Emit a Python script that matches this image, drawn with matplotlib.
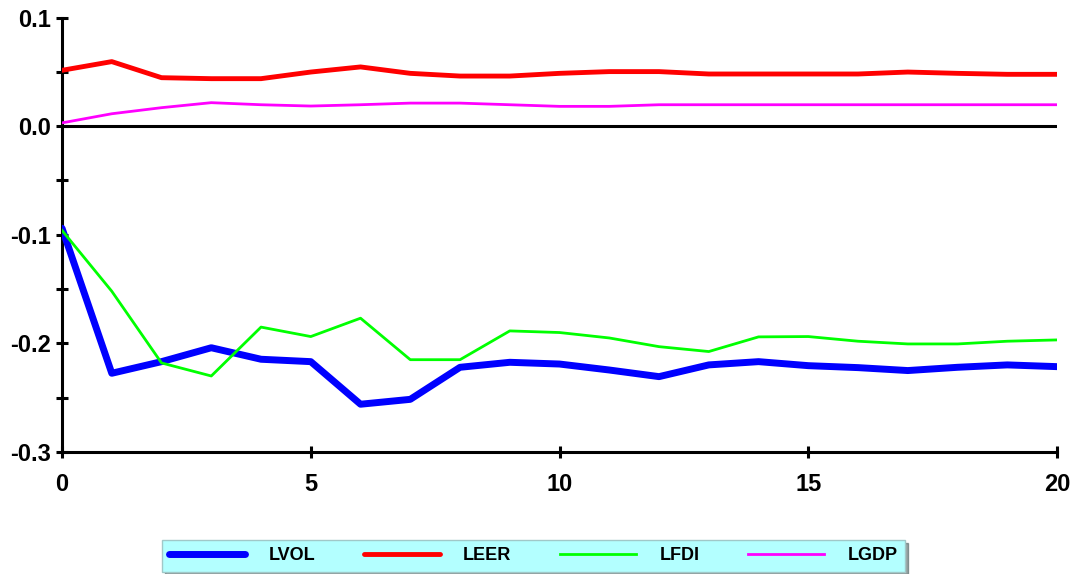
import matplotlib
matplotlib.use("Agg")
import matplotlib.pyplot as plt
import numpy as np

plt.rcParams["font.family"] = ["Liberation Sans", "DejaVu Sans"]
plt.rcParams["font.weight"] = "bold"

periods = list(range(21))
lvol = [-0.094, -0.2275, -0.2168, -0.204, -0.2146, -0.2168, -0.256, -0.2515, -0.222, -0.2174,
        -0.219, -0.2245, -0.2306, -0.2198, -0.2168, -0.2205, -0.2223, -0.225, -0.222, -0.2198, -0.2214]
leer = [0.0514, 0.0594, 0.0446, 0.0437, 0.0437, 0.0498, 0.0545, 0.0486, 0.0461, 0.0461,
        0.0486, 0.0502, 0.0502, 0.048, 0.048, 0.048, 0.048, 0.0498, 0.0486, 0.0477, 0.0477]
lfdi = [-0.096, -0.152, -0.218, -0.230, -0.185, -0.1937, -0.1768, -0.215, -0.215, -0.1885,
        -0.190, -0.195, -0.203, -0.2075, -0.194, -0.1937, -0.198, -0.2005, -0.2005, -0.198, -0.1968]
lgdp = [0.003, 0.0114, 0.017, 0.0216, 0.0197, 0.0185, 0.0197, 0.0212, 0.0212, 0.0197,
        0.0182, 0.0182, 0.0197, 0.0197, 0.0197, 0.0197, 0.0197, 0.0197, 0.0197, 0.0197, 0.0197]

fig = plt.figure(figsize=(10.75, 5.74), dpi=100)
ax = fig.add_axes([0.0577, 0.2125, 0.9256, 0.757])

ax.axhline(0, color="black", lw=2.2, zorder=1)
ax.plot(periods, lvol, color="#0000ff", lw=5, label="LVOL", solid_capstyle="round", zorder=3)
ax.plot(periods, leer, color="#ff0000", lw=3.5, label="LEER", solid_capstyle="round", zorder=3)
ax.plot(periods, lfdi, color="#00ff00", lw=2, label="LFDI", zorder=3)
ax.plot(periods, lgdp, color="#ff00ff", lw=2, label="LGDP", zorder=3)

ax.set_xlim(0, 20)
ax.set_ylim(-0.3, 0.1)
ax.set_xticks([0, 5, 10, 15, 20])
ax.set_yticks([-0.3, -0.2, -0.1, 0.0, 0.1])
ax.set_yticklabels(["-0.3", "-0.2", "-0.1", "0.0", "0.1"])
ax.set_yticks([-0.25, -0.15, -0.05, 0.05], minor=True)

for s in ["top", "right"]:
    ax.spines[s].set_visible(False)
for s in ["left", "bottom"]:
    ax.spines[s].set_linewidth(2.2)
ax.tick_params(which="both", direction="inout", length=8, width=2.2, labelsize=17)
ax.tick_params(axis="x", pad=11)
ax.tick_params(axis="y", pad=4)

leg = fig.legend(loc="lower left", bbox_to_anchor=(0.1507, 0.004, 0.691, 0.056), mode="expand",
                 ncol=4, fontsize=13, handlelength=4.2, handletextpad=1.3, frameon=True,
                 fancybox=False, shadow=True, borderaxespad=0)
frame = leg.get_frame()
frame.set_facecolor("#b3ffff")
frame.set_edgecolor("#a0c8c8")
frame.set_alpha(1)

fig.savefig("out.png", dpi=100)
